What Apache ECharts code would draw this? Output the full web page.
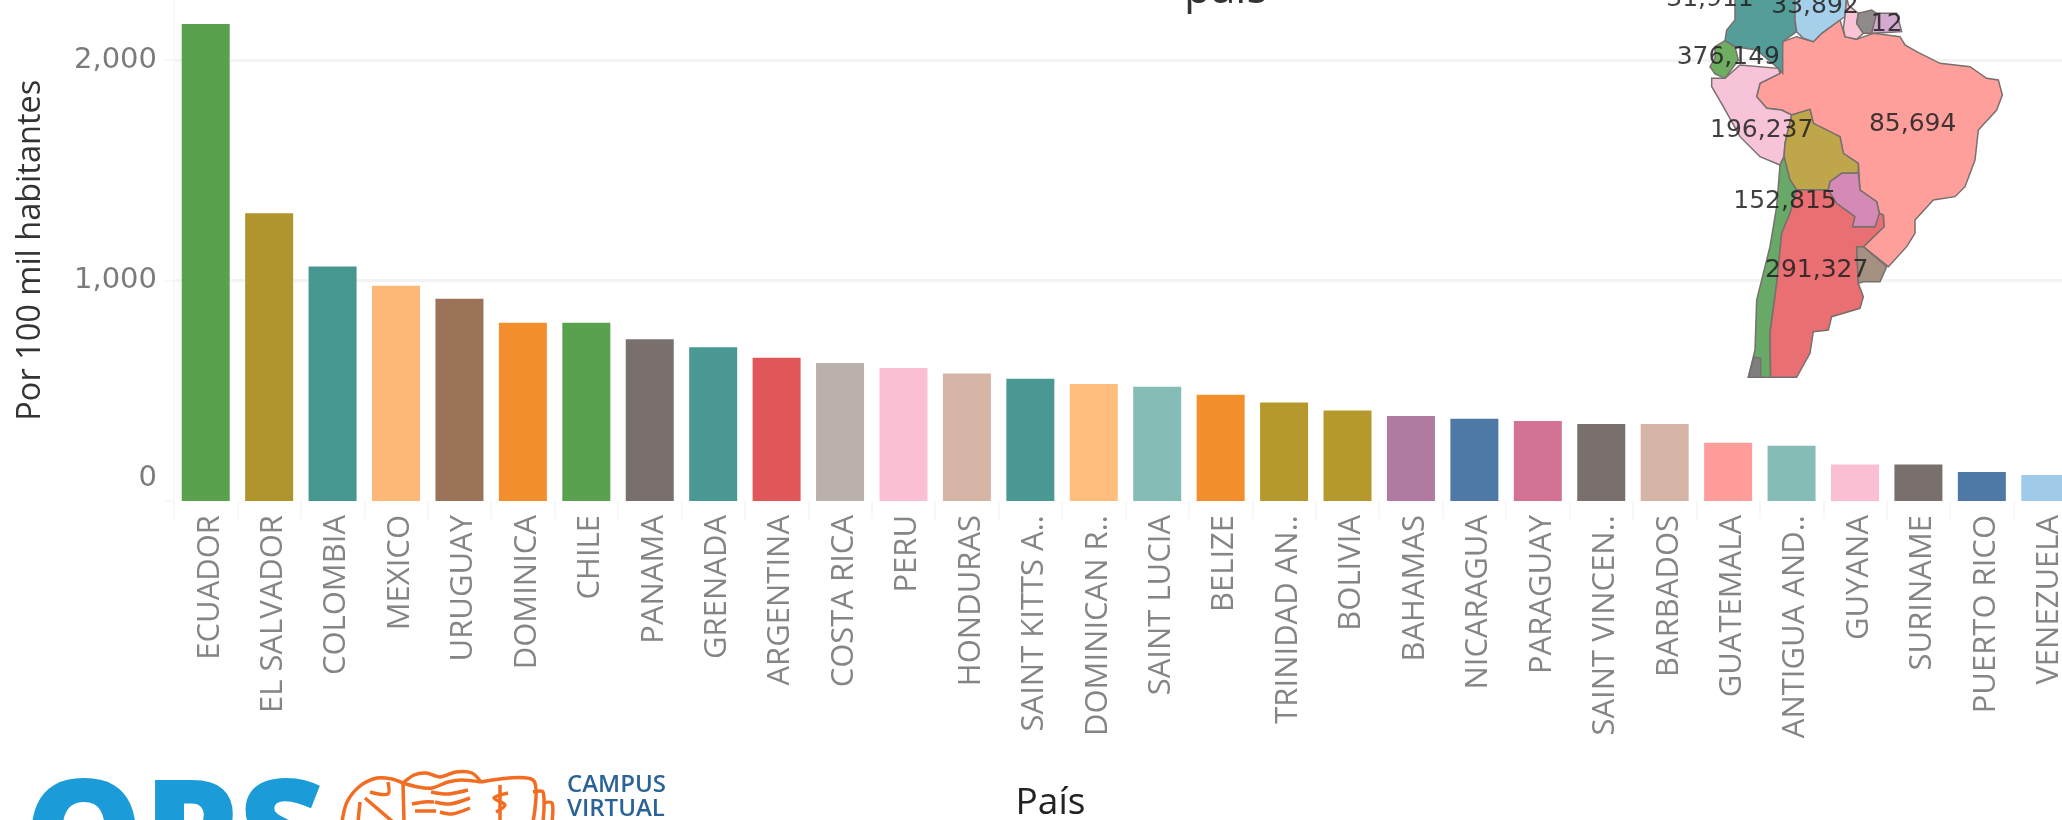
<!DOCTYPE html>
<html><head><meta charset="utf-8">
<style>html,body{margin:0;padding:0;background:#fff;overflow:hidden}#c{width:2062px;height:820px}</style>
<script src="https://cdn.jsdelivr.net/npm/echarts@6/dist/echarts.min.js"></script>
</head><body><div id="c"></div>
<script>
const categories = ["ECUADOR","EL SALVADOR","COLOMBIA","MEXICO","URUGUAY","DOMINICA","CHILE","PANAMA","GRENADA","ARGENTINA","COSTA RICA","PERU","HONDURAS","SAINT KITTS A..","DOMINICAN R..","SAINT LUCIA","BELIZE","TRINIDAD AN..","BOLIVIA","BAHAMAS","NICARAGUA","PARAGUAY","SAINT VINCEN..","BARBADOS","GUATEMALA","ANTIGUA AND..","GUYANA","SURINAME","PUERTO RICO","VENEZUELA"];
const values = [2163,1305,1063,976,917,808,808,733,697,650,626,603,578,554,531,518,482,447,410,385,373,363,349,349,264,251,166,166,131,118];
const barColors = ["#5aa14e","#b0942c","#46978f","#fdb877","#9a7358","#f28e2b","#59a14f","#79706e","#499894","#e15759","#bab0ac","#fabfd2","#d7b5a6","#499894","#ffbe7d","#86bcb6","#f28e2b","#b6992d","#b6992d","#b07aa1","#4e79a7","#d37295","#79706e","#d7b5a6","#ff9d9a","#86bcb6","#fabfd2","#79706e","#4e79a7","#a0cbe8"];

// Map outlines in the units of a 1386x1200 view box
const mapNames = ["Brasil","Peru","Ecuador","Colombia","Venezuela","Guyana","Suriname","Guayana Francesa","Bolivia","Chile","Argentina","Paraguay","Uruguay","Islas"];
const mapColors = ["#ff9f9c","#f6c3d8","#6fae60","#559d98","#a6cfea","#f8c4d6","#8f8b89","#d4aad0","#bfa64a","#68a968","#e96f72","#d48ab5","#a59181","#7f7f7f"];
const mapValues = [85694,196237,376149,31911,33892,null,null,12,null,152815,291327,null,null,null];
const mapLabelAt = [[938,372],[485,390],[385,172],[330,-2],[645,20],null,null,[860,72],null,[555,603],[650,812],null,null,null];
const mapShapes = [
 [[548,125],[590,110],[640,125],[665,100],[720,60],[735,110],[770,118],[820,100],[900,110],[915,135],[950,155],[1020,190],[1110,200],[1160,235],[1195,240],[1207,285],[1190,330],[1135,390],[1125,480],[1095,560],[1065,590],[1000,600],[945,660],[945,700],[920,740],[865,800],[790,740],[852,680],[850,645],[838,640],[830,605],[780,570],[775,490],[730,460],[720,410],[640,370],[630,328],[575,345],[545,330],[500,325],[470,290],[480,250],[540,220]],
 [[335,235],[375,235],[420,195],[535,205],[540,220],[480,250],[470,290],[500,325],[545,330],[575,345],[555,430],[552,470],[540,495],[480,470],[420,410],[370,320],[335,260]],
 [[345,140],[375,122],[405,140],[415,180],[375,235],[345,222],[330,200],[345,175]],
 [[405,-10],[585,-10],[585,60],[590,95],[548,125],[548,220],[535,205],[470,150],[405,140],[375,122],[380,90],[405,60]],
 [[585,-10],[740,-10],[735,50],[720,60],[665,100],[640,125],[610,115],[590,95],[585,60]],
 [[740,-10],[745,15],[775,40],[770,70],[790,100],[770,118],[735,110],[730,85],[735,50]],
 [[775,40],[815,30],[830,40],[815,100],[790,100],[770,70]],
 [[830,40],[890,40],[905,95],[815,100]],
 [[575,345],[630,328],[640,370],[720,410],[730,460],[775,490],[775,520],[725,520],[690,545],[685,570],[590,570],[570,540],[552,470],[555,430]],
 [[540,495],[552,470],[570,540],[590,570],[570,640],[545,700],[530,850],[510,1000],[512,1132],[445,1132],[465,1050],[470,900],[510,740],[530,620]],
 [[590,570],[685,570],[710,610],[765,650],[758,680],[825,680],[838,640],[850,645],[852,680],[790,740],[770,740],[775,850],[790,890],[780,925],[695,950],[685,990],[640,995],[630,1060],[590,1132],[512,1132],[510,1000],[530,850],[545,700],[570,640]],
 [[690,545],[725,520],[775,520],[780,570],[830,605],[838,640],[825,680],[758,680],[765,650],[710,610],[685,570]],
 [[790,740],[860,800],[840,845],[790,845],[775,850],[770,740]],
 [[462,1070],[482,1076],[482,1132],[445,1132]]
];

echarts.registerMap('sudamerica', {type:'FeatureCollection', features: mapNames.map((n,i)=>{
  const ring = mapShapes[i].map(p=>[p[0],-p[1]]); ring.push(ring[0]);
  const props = {name:n};
  if (mapLabelAt[i]) props.cp = [mapLabelAt[i][0],-mapLabelAt[i][1]];
  return {type:'Feature',properties:props,geometry:{type:'Polygon',coordinates:[ring]}};
})});

const chart = echarts.init(document.getElementById('c'));
const numFmt = v => String(v).replace(/\B(?=(\d{3})+$)/g,',');
const o = '#f26c22';
const logoLines = [
 [[342,822],[347,802],[360,786],[377,778],[392,779],[403,783]],
 [[403,783],[404,822]],
 [[403,783],[414,775],[426,773],[440,777],[456,772],[472,773],[481,782]],
 [[403,783],[418,787],[432,788],[448,782],[462,780],[481,782]],
 [[431,792],[448,794],[468,790]],
 [[435,802],[450,804],[470,798]],
 [[440,812],[452,814],[470,808]],
 [[412,804],[424,802],[434,802]],
 [[415,811],[436,811]],
 [[481,782],[533,780],[533,822]],
 [[533,792],[543,792],[543,822]],
 [[543,803],[552,803],[552,822]],
 [[500,785],[500,822]],
 [[508,793],[494,798],[505,805],[496,812]],
 [[365,798],[393,822]],
 [[360,802],[358,822]],
 [[370,792],[388,794],[388,782]]
];

chart.setOption({
  animation:false,
  backgroundColor:'#fff',
  title:{text:'país',left:1179,top:-37,textStyle:{fontFamily:'Open Sans',fontSize:44,fontWeight:'normal',color:'#333'}},
  grid:{left:174,top:-160.5,width:1903,height:661.5,containLabel:false,outerBoundsMode:'none'},
  xAxis:{type:'category',data:categories,
    axisLine:{show:false},
    axisTick:{show:true,length:18,lineStyle:{color:'#f5f5f5',width:1.5}},
    axisLabel:{interval:0,rotate:90,margin:14,
      formatter:v=>'{c|'+v+'}',
      rich:{c:{fontFamily:'Open Sans',fontSize:31,fontWeight:400,color:'#858585',padding:[8,0,0,0]}}},
    name:'País',nameLocation:'middle',nameGap:284,
    nameTextStyle:{fontFamily:'Open Sans',fontSize:37,color:'#222',padding:[0,150,0,0]}
  },
  yAxis:{type:'value',min:0,max:3000,interval:1000,
    axisLine:{show:true,lineStyle:{color:'#f7f7f7',width:1.5}},
    axisTick:{show:true,length:10,lineStyle:{color:'#f5f5f5',width:1.5}},
    splitLine:{show:true,showMinLine:false,lineStyle:{color:'#f3f3f3',width:3}},
    axisLabel:{margin:17,fontFamily:'DejaVu Sans',fontSize:29,color:'#7b7b7b',
      formatter:v=>v===0?'{z|0}':numFmt(v),
      rich:{z:{fontFamily:'DejaVu Sans',fontSize:29,color:'#7b7b7b',padding:[0,0,46,0]}}},
    name:'Por 100 mil habitantes',nameLocation:'middle',nameGap:127,
    nameTextStyle:{fontFamily:'Open Sans',fontSize:32.5,color:'#333',padding:[0,160,0,0]}
  },
  series:[
    {type:'bar',barWidth:48,silent:true,
     data:values.map((v,i)=>({value:v,itemStyle:{color:barColors[i]}}))},
    {type:'map',map:'sudamerica',left:1600,top:0,width:462,height:400,aspectScale:1,
     boundingCoords:[[0,0],[1386,-1200]],roam:false,silent:true,z:3,
     itemStyle:{borderColor:'#77706e',borderWidth:1.5},
     data:mapNames.map((n,i)=>({name:n,value:mapValues[i],
       itemStyle:{areaColor:mapColors[i]},
       label:{show:mapValues[i]!==null,formatter:numFmt(mapValues[i]||0),fontFamily:'DejaVu Sans',fontSize:25,color:'rgba(30,30,30,0.85)'}}))}
  ],
  graphic:[
    {type:'text',left:24,top:770,style:{text:'OPS',fontFamily:'Open Sans',fontWeight:800,fontSize:150,fill:'#1b9cd8'},z:10},
    ...logoLines.map(p=>({type:'polyline',shape:{points:p,smooth:0.3},style:{stroke:o,lineWidth:3.5,fill:null},z:10})),
    {type:'text',left:567,top:773,style:{text:'CAMPUS',fontFamily:'Open Sans',fontWeight:600,fontSize:24,fill:'#2b6396'},z:10},
    {type:'text',left:567,top:797,style:{text:'VIRTUAL',fontFamily:'Open Sans',fontWeight:600,fontSize:24,fill:'#2b6396'},z:10}
  ]
});
</script></body></html>
